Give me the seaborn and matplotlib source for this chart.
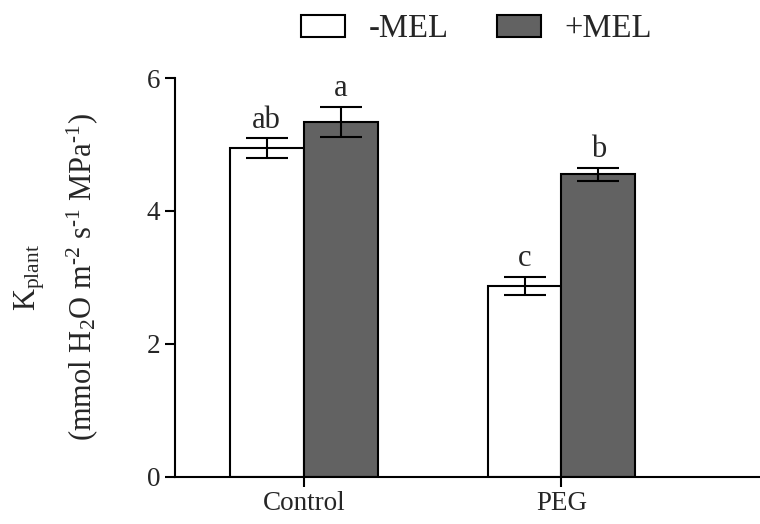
import numpy as np
import pandas as pd
import seaborn as sns
import matplotlib.pyplot as plt
from matplotlib.patches import Patch

# values
groups = ['Control', 'PEG']
treatments = ['-MEL', '+MEL']
means_minus = [4.95, 2.87]
means_plus = [5.34, 4.55]
sem_minus = [0.15, 0.14]
sem_plus = [0.23, 0.10]
letters_minus = ['ab', 'c']
letters_plus = ['a', 'b']

df = pd.DataFrame({
    'group': groups * 2,
    'treatment': [treatments[0]] * 2 + [treatments[1]] * 2,
    'kplant': means_minus + means_plus,
    'sem': sem_minus + sem_plus,
    'letter': letters_minus + letters_plus,
})

sns.set_style('ticks')
plt.rcParams['font.family'] = ['Liberation Serif', 'DejaVu Serif']
plt.rcParams['mathtext.fontset'] = 'custom'
plt.rcParams['mathtext.rm'] = 'Liberation Serif'
plt.rcParams['mathtext.it'] = 'Liberation Serif:italic'
plt.rcParams['mathtext.bf'] = 'Liberation Serif:bold'

fig = plt.figure(figsize=(7.6, 5.24), dpi=100)
ax = fig.add_axes([0.230, 0.090, 0.770, 0.761])

palette = {'-MEL': 'white', '+MEL': '#626262'}
sns.barplot(data=df, x='group', y='kplant', hue='treatment', order=groups,
            hue_order=treatments, palette=palette, width=0.574, errorbar=None,
            edgecolor='black', linewidth=1.5, legend=False, ax=ax)

# error bars and letters placed at the centre of each bar
bars = ax.patches[:4]
for i, bar in enumerate(bars):
    ti, gi = divmod(i, 2)
    row = df[(df['treatment'] == treatments[ti]) & (df['group'] == groups[gi])].iloc[0]
    xc = bar.get_x() + bar.get_width() / 2
    ax.errorbar(xc, row['kplant'], yerr=row['sem'], color='black',
                capsize=15, capthick=1.5, elinewidth=1.5)
    ax.text(xc, row['kplant'] + row['sem'] + 0.05, row['letter'],
            ha='center', va='bottom', fontsize=22)

ax.set_xlim(-0.5, 1.77)
ax.set_ylim(0, 6)
ax.set_yticks([0, 2, 4, 6])
ax.set_xlabel('')
ax.set_ylabel('K$_{\\mathrm{plant}}$\n(mmol H$_{\\mathrm{2}}$O m$^{\\mathrm{‐2}}$ s$^{\\mathrm{‐1}}$ MPa$^{\\mathrm{‐1}}$)',
              fontsize=22, linespacing=1.65)
ax.yaxis.set_label_coords(-0.127, 0.5)
ax.tick_params(labelsize=19.5, width=1.5, length=7, color='black')
for s in ['left', 'bottom']:
    ax.spines[s].set_linewidth(1.5)
    ax.spines[s].set_color('black')
sns.despine(ax=ax)

handles = [Patch(facecolor=palette[t], edgecolor='black', linewidth=1.5) for t in treatments]
fig.legend(handles, treatments, loc='upper center', bbox_to_anchor=(0.627, 1.03),
           ncol=2, frameon=False, fontsize=23.5, handlelength=1.35, handleheight=0.67,
           columnspacing=1.5, handletextpad=0.7)

fig.savefig('out.png', dpi=100)
